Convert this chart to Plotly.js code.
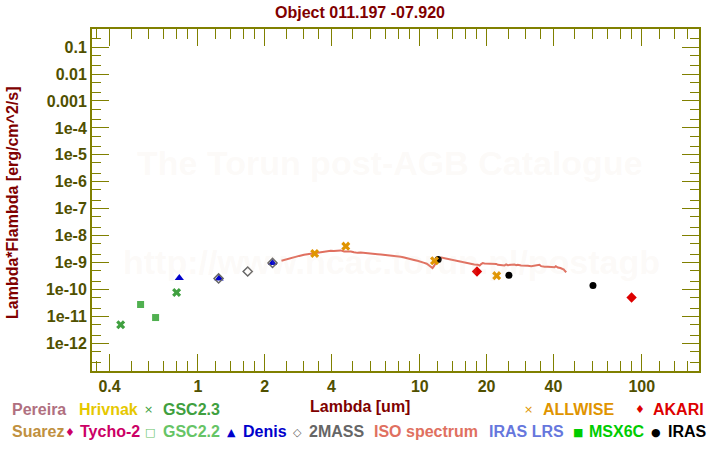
<!DOCTYPE html>
<html>
<head>
<meta charset="utf-8">
<script src="https://cdn.plot.ly/plotly-3.0.1.min.js"></script>
<style>html,body{margin:0;padding:0;background:#fff;}#chart{width:720px;height:450px;}</style>
</head>
<body>
<div id="chart"></div>
<script>
// ---- data (wavelength in micron, lambda*F_lambda in erg/cm^2/s) ----
const isoLambda = [2.38,2.45,2.53,2.62,2.72,2.86,3.01,3.12,3.23,3.35,3.46,3.58,3.71,3.84,3.97,4.10,4.26,4.40,4.56,4.72,4.89,5.05,5.24,5.42,5.61,5.80,6.01,6.23,6.45,6.68,6.91,7.15,7.40,7.65,7.93,8.20,8.51,8.80,9.11,9.42,9.76,10.1,10.47,10.75,11.03,11.25,11.41,11.6,11.8,12.06,12.49,12.93,13.4,13.85,14.3,14.84,15.3,15.91,16.5,17.05,17.6,18.26,18.6,18.9,19.2,19.57,20.3,20.98,21.7,22.1,22.47,23.3,24.09,24.5,24.9,25.82,26.7,27.2,27.66,28.6,29.65,30.7,31.78,32.9,34.04,34.6,35.2,36.49,37.8,39.12,40.5,41.0,41.9,43.0,44.1,44.6,45.0,45.7];
const isoFlux = [1.17e-9,1.26e-9,1.38e-9,1.48e-9,1.64e-9,1.78e-9,1.95e-9,2.04e-9,2.20e-9,2.29e-9,2.45e-9,2.51e-9,2.61e-9,2.66e-9,2.75e-9,2.69e-9,2.75e-9,2.85e-9,2.61e-9,2.69e-9,2.61e-9,2.45e-9,2.31e-9,2.40e-9,2.31e-9,2.19e-9,2.20e-9,2.11e-9,2.07e-9,2.00e-9,1.95e-9,1.91e-9,1.85e-9,1.74e-9,1.70e-9,1.66e-9,1.56e-9,1.48e-9,1.38e-9,1.26e-9,1.17e-9,1.10e-9,9.8e-10,9.1e-10,7.9e-10,6.8e-10,6.3e-10,7.6e-10,1.05e-9,1.38e-9,1.56e-9,1.47e-9,1.35e-9,1.24e-9,1.17e-9,1.11e-9,1.07e-9,9.8e-10,9.3e-10,8.8e-10,8.5e-10,8.3e-10,7.8e-10,8.9e-10,9.6e-10,9.3e-10,9.1e-10,9.3e-10,8.7e-10,9.0e-10,8.3e-10,8.1e-10,7.9e-10,8.6e-10,8.1e-10,8.3e-10,8.5e-10,8.0e-10,8.3e-10,7.9e-10,7.9e-10,7.6e-10,7.4e-10,7.7e-10,7.9e-10,8.3e-10,7.4e-10,7.0e-10,7.1e-10,7.0e-10,6.8e-10,7.4e-10,6.6e-10,6.3e-10,5.9e-10,5.5e-10,5.0e-10,4.4e-10];

const gsc23Lambda = [0.449, 0.802];
const gsc23Flux = [5.0e-12, 7.8e-11];
const gsc22Lambda = [0.552, 0.645];
const gsc22Flux = [2.8e-11, 9.2e-12];
const denisLambda = [0.825, 1.246, 2.17];
const denisFlux = [2.7e-10, 2.6e-10, 9.8e-10];
const twomassLambda = [1.24, 1.677, 2.17];
const twomassFlux = [2.6e-10, 4.7e-10, 9.8e-10];
const allwiseLambda = [3.36, 4.64, 11.65, 22.2];
const allwiseFlux = [2.2e-9, 4.1e-9, 1.17e-9, 3.3e-10];
const irasLambda = [12.1, 25.2, 60.3];
const irasFlux = [1.3e-9, 3.4e-10, 1.42e-10];
const akariLambda = [18.1, 90];
const akariFlux = [4.7e-10, 5.1e-11];

// ---- ticks ----
const xTickVals = [0.4, 1, 2, 4, 10, 20, 40, 100];
const xTickText = ['0.4', '1', '2', '4', '10', '20', '40', '100'];
const xMinorVals = [0.35,0.5,0.6,0.7,0.8,0.9,1.2,1.4,1.6,1.8,2.5,3,3.5,5,6,7,8,9,12,14,16,18,25,30,35,50,60,70,80,90,120,140,160];
const yTickVals = [1e-1,1e-2,1e-3,1e-4,1e-5,1e-6,1e-7,1e-8,1e-9,1e-10,1e-11,1e-12];
const yTickText = ['0.1','0.01','0.001','1e-4','1e-5','1e-6','1e-7','1e-8','1e-9','1e-10','1e-11','1e-12'];

// ---- legend labels ----
const legendNames = ['Pereira','Hrivnak','GSC2.3','ALLWISE','AKARI','Suarez','Tycho-2','GSC2.2','Denis','2MASS','ISO spectrum','IRAS LRS','MSX6C','IRAS'];
const legendColors = ['#b07080','#e6c800','#40a040','#e09400','#dd0000','#c09040','#cc0066','#66c466','#0000cc','#666666','#e07060','#6677dd','#00cc00','#000000'];
const legendSymbols = ['','','×','×','♦','','♦','□','▲','◇','','','■','●'];

const FONT = 'Liberation Sans, Arial, sans-serif';
const OLIVE = '#808000';
const TICKC = '#505000';
const DARKRED = '#800000';

const L = 92, R = 699, T = 29, B = 371;
const W = 720, H = 450;
const px = x => (x - L) / (R - L);
const py = y => (B - y) / (B - T);

const traces = [
  {x: isoLambda, y: isoFlux, mode: 'lines', line: {color: '#e07060', width: 2}, name: 'ISO spectrum'},
  {x: gsc23Lambda, y: gsc23Flux, mode: 'markers', marker: {symbol: 'x', size: 8, color: '#40a040'}, name: 'GSC2.3'},
  {x: gsc22Lambda, y: gsc22Flux, mode: 'markers', marker: {symbol: 'square', size: 7, color: '#50b050'}, name: 'GSC2.2'},
  {x: denisLambda, y: denisFlux, mode: 'markers', marker: {symbol: 'triangle-up', size: 8, color: '#0000cc'}, name: 'Denis'},
  {x: twomassLambda, y: twomassFlux, mode: 'markers', marker: {symbol: 'diamond-open', size: 7, color: '#666666', line: {width: 1.5, color: '#666666'}}, name: '2MASS'},
  {x: irasLambda, y: irasFlux, mode: 'markers', marker: {symbol: 'circle', size: 7, color: '#000000'}, name: 'IRAS'},
  {x: allwiseLambda, y: allwiseFlux, mode: 'markers', marker: {symbol: 'x', size: 8, color: '#e09400'}, name: 'ALLWISE'},
  {x: akariLambda, y: akariFlux, mode: 'markers', marker: {symbol: 'diamond', size: 8, color: '#dd0000'}, name: 'AKARI'}
];

const annotations = [];
// watermark
const WM = 'rgba(225,205,185,0.11)';
annotations.push({xref: 'paper', yref: 'paper', x: px(390), y: py(163), xanchor: 'center', yanchor: 'middle', text: 'The Torun post-AGB Catalogue', showarrow: false,
  font: {family: FONT, size: 34, color: WM, weight: 'bold'}});
annotations.push({xref: 'paper', yref: 'paper', x: px(391), y: py(262), xanchor: 'center', yanchor: 'middle', text: 'http://www.ncac.torun.pl/postagb', showarrow: false,
  font: {family: FONT, size: 34, color: WM, weight: 'bold'}});
// axis titles
annotations.push({xref: 'paper', yref: 'paper', x: px(360), y: py(407), xanchor: 'center', yanchor: 'middle', text: 'Lambda [um]', showarrow: false,
  font: {family: FONT, size: 16, color: DARKRED, weight: 'bold'}});
annotations.push({xref: 'paper', yref: 'paper', x: px(12), y: py(203), xanchor: 'center', yanchor: 'middle', text: 'Lambda*Flambda [erg/cm^2/s]', textangle: -90, showarrow: false,
  font: {family: FONT, size: 16, color: DARKRED, weight: 'bold'}});

// legend positions: [text-left-x, row-y, symbol-center-x]
const legendPos = [[10,409,0],[77,409,0],[161,409,148],[541,409,528],[651,409,640],
                   [10,431,0],[78,431,70],[161,431,150],[241,431,231],[307,431,297],[372,431,0],[487,431,0],[587,431,578],[666,431,656]];
legendNames.forEach((n, i) => {
  const p = legendPos[i];
  annotations.push({xref: 'paper', yref: 'paper', x: px(p[0]), y: py(p[1]), xanchor: 'left', yanchor: 'middle', text: n, showarrow: false,
    font: {family: FONT, size: 16, color: legendColors[i], weight: 'bold'}});
  if (legendSymbols[i]) {
    annotations.push({xref: 'paper', yref: 'paper', x: px(p[2]), y: py(p[1] + 1), xanchor: 'center', yanchor: 'middle', text: legendSymbols[i], showarrow: false,
      font: {family: 'DejaVu Sans, sans-serif', size: 11, color: legendColors[i]}});
  }
});

const axisCommon = {
  type: 'log', showline: true, linecolor: OLIVE, linewidth: 2, mirror: 'allticks',
  ticks: 'inside', ticklen: 17, tickwidth: 1, tickcolor: OLIVE, showgrid: false, zeroline: false,
  tickfont: {family: FONT, size: 16, color: TICKC, weight: 'bold'}, tickmode: 'array'
};

const layout = {
  width: W, height: H,
  margin: {l: L, r: W - R, t: T, b: H - B, pad: 0},
  paper_bgcolor: '#ffffff', plot_bgcolor: '#ffffff',
  showlegend: false,
  title: {text: 'Object 011.197 -07.920', xref: 'container', x: 0.5, xanchor: 'center', yref: 'container', y: 1 - 12 / H, yanchor: 'middle',
    font: {family: FONT, size: 16, color: DARKRED, weight: 'bold'}},
  xaxis: Object.assign({}, axisCommon, {
    range: [-0.477, 2.258], tickvals: xTickVals, ticktext: xTickText,
    minor: {tickmode: 'array', tickvals: xMinorVals, ticks: 'inside', ticklen: 10, tickwidth: 1, tickcolor: OLIVE, showgrid: false}
  }),
  yaxis: Object.assign({}, axisCommon, {
    range: [-13.02, -0.33], tickvals: yTickVals, ticktext: yTickText,
    minor: {dtick: 'D2', ticks: 'inside', ticklen: 9, tickwidth: 1, tickcolor: OLIVE, showgrid: false}
  }),
  annotations: annotations
};

Plotly.newPlot('chart', traces, layout, {staticPlot: true, displayModeBar: false});
</script>
</body>
</html>
